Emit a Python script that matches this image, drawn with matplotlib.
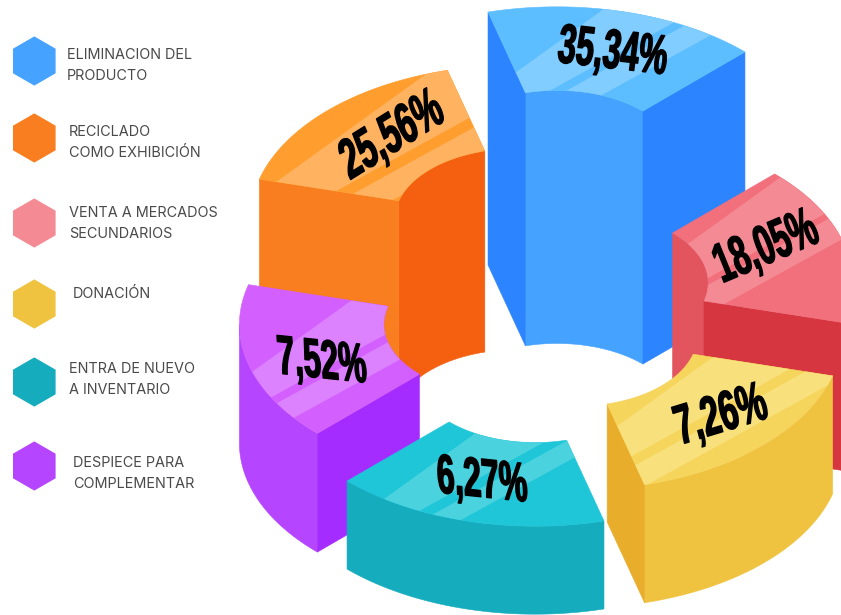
import numpy as np
import matplotlib
matplotlib.use('Agg')
import matplotlib.pyplot as plt
from matplotlib.patches import Polygon, RegularPolygon
from matplotlib.patheffects import AbstractPathEffect
from matplotlib.transforms import Affine2D

WIDTH, HEIGHT = 841, 615

categories = ['ELIMINACION DEL\nPRODUCTO', 'RECICLADO\nCOMO EXHIBICIÓN', 'VENTA A MERCADOS\nSECUNDARIOS',
              'DONACIÓN', 'ENTRA DE NUEVO\nA INVENTARIO', 'DESPIECE PARA\nCOMPLEMENTAR']
values = [35.34, 25.56, 18.05, 7.26, 6.27, 7.52]
start_angles = [45, 105, -15, 285, 225, 165]

# value -> extrusion height in px, the solids are not linear in the value
height_knots_v = [6.27, 7.26, 18.05, 25.56, 35.34]
height_knots_px = [88, 118, 148, 201, 253]

SPAN = 60
CENTER = (546, 437)
OUTER = (266, 154)
INNER_RATIO = 0.457
EXPLODE = (42, 24)

# top, stripe, inner wall, outer wall, radial wall
colors = [
    ('#5CBEFF', '#82CDFF', '#45A3FF', '#45A3FF', '#2D84FF'),
    ('#FF9E2F', '#FFB25F', '#F45F10', '#F97E20', '#F97E20'),
    ('#F26F7C', '#F48B94', '#E2545E', '#E2545E', '#D63640'),
    ('#F6D55C', '#F8E07C', '#EFC340', '#EFC340', '#E8AD2B'),
    ('#1FC6D8', '#4AD3DF', '#15ACBE', '#15ACBE', '#15ACBE'),
    ('#D45FFF', '#DC82FF', '#B645FF', '#B645FF', '#A52CFF'),
]
# intercepts of the two highlight bands on the top faces
bands = [(-118, -74, -65, -41), (-210, -127, -115, -87), (34, 62, 69, 97),
         (120, 151, 162, 188), (18, 75, 86, 107), (-135, -56, -47, -23)]

# baseline middle, baseline angle, stem lean, width in px
label_style = [
    ((611, 68), -6.5, 7, 110), ((398, 150), 32, -23, 114), ((772, 262), 23, -22, 108),
    ((725, 431), 17, -15, 94), ((483, 497), -6, -3, 91), ((323, 378), -6, -4, 90),
]
LABEL_SIZE = 28
LABEL_STRETCH = 40 / 28

legend_y = [61, 138, 223, 304, 382, 466]
legend_text_x = [67, 69, 69, 73, 69, 73]
legend_text_y = [65.5, 142.5, 223.5, 293.5, 379.5, 473.5]
legend_colors = ['#45A3FF', '#F97E20', '#F48B94', '#EFC340', '#15ACBE', '#B645FF']


class SkewText(AbstractPathEffect):
    # draws a text path with its own baseline and stem directions, slightly thickened
    def __init__(self, anchor, angle, lean, sx, sy, stroke=1.0):
        super().__init__()
        a, l = np.radians(angle), np.radians(lean)
        mat = [[np.cos(a) * sx, np.sin(l) * sy, 0], [np.sin(a) * sx, np.cos(l) * sy, 0], [0, 0, 1]]
        self.trans = Affine2D().translate(-anchor[0], -anchor[1]) + Affine2D(np.array(mat)) \
            + Affine2D().translate(anchor[0], anchor[1])
        self.stroke = stroke

    def draw_path(self, renderer, gc, tpath, affine, rgbFace=None):
        gc0 = renderer.new_gc()
        gc0.copy_properties(gc)
        gc0.set_linewidth(self.stroke)
        gc0.set_foreground('black')
        renderer.draw_path(gc0, tpath, affine + self.trans, rgbFace)
        gc0.restore()


def arc(cx, cy, scale, t0, t1):
    t = np.radians(np.linspace(t0, t1, 60))
    return np.column_stack([cx + OUTER[0] * scale * np.cos(t), cy - OUTER[1] * scale * np.sin(t)])


def add_poly(ax, pts, color, z):
    p = Polygon(pts, closed=True, facecolor=color, edgecolor=color, linewidth=0.4, zorder=z)
    ax.add_patch(p)
    return p


def wall(upper, h):
    return np.vstack([upper, (upper + [0, h])[::-1]])


def draw_slice(ax, i, z):
    t0, t1 = start_angles[i], start_angles[i] + SPAN
    mid = np.radians(t0 + SPAN / 2)
    h = np.interp(values[i], height_knots_v, height_knots_px)
    cx = CENTER[0] + EXPLODE[0] * np.cos(mid)
    cy = CENTER[1] - EXPLODE[1] * np.sin(mid) - h
    top_c, stripe_c, inner_c, outer_c, side_c = colors[i]

    outer = arc(cx, cy, 1, t0, t1)
    inner = arc(cx, cy, INNER_RATIO, t0, t1)

    # only the walls that turn towards the viewer
    if np.sin(mid) > 0:
        add_poly(ax, wall(arc(cx, cy, INNER_RATIO, max(t0, 0), t1), h), inner_c, z)
    else:
        add_poly(ax, wall(arc(cx, cy, 1, max(t0, 180), t1), h), outer_c, z)
    if np.sin(np.radians(t0 - 90)) < 0:
        add_poly(ax, wall(np.array([inner[0], outer[0]]), h), side_c, z + 0.1)
    if np.sin(np.radians(t1 + 90)) < 0:
        add_poly(ax, wall(np.array([inner[-1], outer[-1]]), h), side_c, z + 0.1)

    top = add_poly(ax, np.vstack([outer, inner[::-1]]), top_c, z + 0.2)

    # two highlight bands, cut to the top face
    x = np.array([cx - 400, cx + 400])
    b = bands[i]
    for v0, s0, v1 in [(b[0], 0.72, b[1]), (b[2], 0.55, b[3])]:
        y0 = cy + v0 - s0 * (x - cx)
        y1 = cy + v1 - 0.55 * (x - cx)
        pts = np.column_stack([np.r_[x, x[::-1]], np.r_[y0, y1[::-1]]])
        band = Polygon(pts, closed=True, facecolor=stripe_c, edgecolor='none', zorder=z + 0.3)
        ax.add_patch(band)
        band.set_clip_path(top)


plt.rcParams['font.family'] = ['Liberation Sans Narrow', 'Liberation Sans', 'DejaVu Sans']

fig = plt.figure(figsize=(WIDTH / 100, HEIGHT / 100), dpi=100)
ax = fig.add_axes([0, 0, 1, 1])
ax.set_xlim(0, WIDTH)
ax.set_ylim(HEIGHT, 0)
ax.axis('off')

order = sorted(range(len(values)), key=lambda k: -np.sin(np.radians(start_angles[k] + SPAN / 2)))
for n, i in enumerate(order):
    draw_slice(ax, i, 2 + n)

renderer = fig.canvas.get_renderer()
for i, v in enumerate(values):
    (px, py), angle, lean, w = label_style[i]
    t = ax.text(px, py, f'{v:.2f}%'.replace('.', ','), ha='center', va='baseline', fontsize=LABEL_SIZE,
                fontweight='bold', color='black', zorder=20)
    sx = w / t.get_window_extent(renderer).width
    anchor = ax.transData.transform((px, py))
    t.set_path_effects([SkewText(anchor, angle, lean, sx, LABEL_STRETCH)])

for i, label in enumerate(categories):
    ax.add_patch(RegularPolygon((34.3, legend_y[i]), numVertices=6, radius=24.6, facecolor=legend_colors[i],
                                edgecolor='none', zorder=2))
    ax.text(legend_text_x[i], legend_text_y[i], label, ha='left', va='center', fontsize=10.4, color='#4A4A4A',
            family=['Inter', 'DejaVu Sans'], linespacing=1.72, zorder=2)

fig.savefig('out.png', dpi=100)
